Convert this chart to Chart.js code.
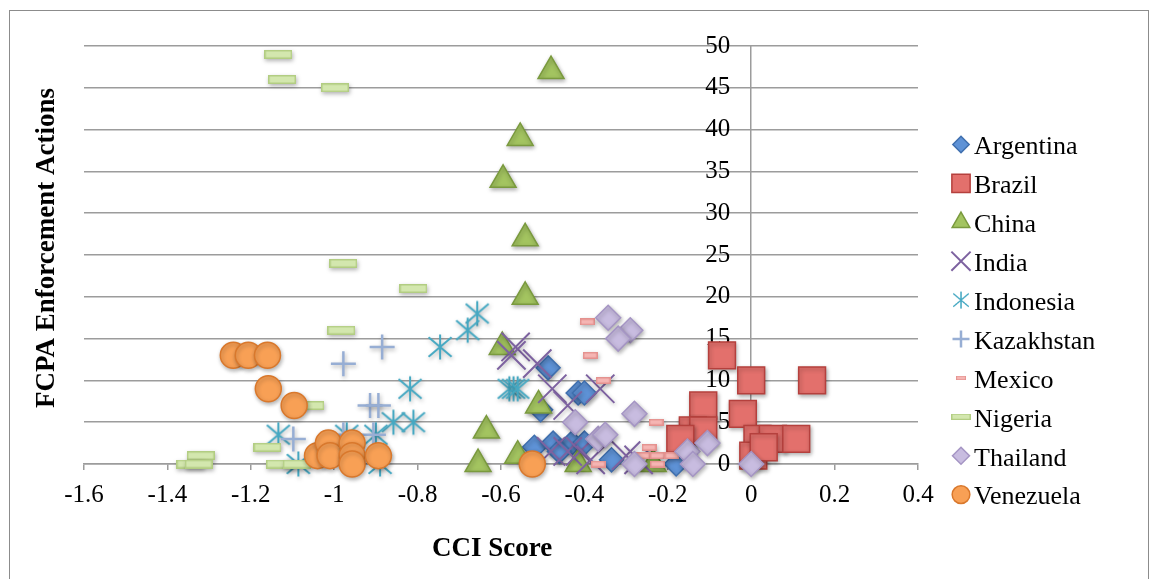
<!DOCTYPE html>
<html>
<head>
<meta charset="utf-8">
<title>FCPA Enforcement Actions vs CCI Score</title>
<script src="https://cdn.jsdelivr.net/npm/chart.js@4.4.1/dist/chart.umd.min.js"></script>
<style>
  body { margin: 0; background: #fff; }
  canvas { position: absolute; left: 0; top: 0; }
  #frame { position: absolute; left: 9px; top: 10px; width: 1140px; height: 580px; border: 1px solid #8c8c8c; box-sizing: border-box; pointer-events: none; }
</style>
</head>
<body>
<canvas id="scatter" width="1154" height="579"></canvas>
<div id="frame"></div>
<script>
// [CCI score, FCPA actions] per country
const argentina = [[-0.487, 11.5], [-0.415, 8.5], [-0.40, 8.5], [-0.505, 6.5], [-0.52, 2], [-0.475, 2.5], [-0.43, 2.5], [-0.40, 2.5], [-0.46, 1.5], [-0.335, 0.5], [-0.18, 0]];
const brazil = [[-0.07, 13], [0, 10], [0.146, 10], [-0.115, 7], [-0.02, 6], [-0.14, 4], [-0.115, 4], [-0.17, 3], [0.015, 3], [0.052, 3], [0.108, 3], [0.005, 1], [0.03, 2]];
const china = [[-0.48, 47], [-0.554, 39], [-0.595, 34], [-0.542, 27], [-0.542, 20], [-0.597, 14], [-0.51, 7], [-0.635, 4], [-0.655, 0], [-0.56, 1], [-0.415, 0], [-0.235, 0]];
const india = [[-0.565, 14], [-0.575, 13], [-0.513, 12], [-0.477, 9], [-0.362, 9], [-0.44, 7], [-0.48, 1.5], [-0.44, 1.5], [-0.41, 1.5], [-0.385, 0.5], [-0.3, 1], [-0.27, 0.5]];
const indonesia = [[-0.657, 18], [-0.68, 16], [-0.746, 14], [-0.818, 9], [-0.58, 9], [-0.57, 9], [-0.56, 9], [-0.858, 5], [-0.81, 5], [-1.134, 3.5], [-0.97, 3.5], [-0.90, 3.5], [-1.086, 0], [-0.89, 0]];
const kazakhstan = [[-0.885, 14], [-0.978, 12], [-0.914, 7], [-0.894, 7], [-1.098, 3], [-0.978, 3.5], [-0.906, 3.5]];
const mexico = [[-0.393, 17], [-0.386, 13], [-0.355, 10], [-0.228, 5], [-0.245, 2], [-0.26, 1], [-0.225, 1], [-0.225, 0], [-0.367, 0], [-0.19, 1]];
const nigeria = [[-1.134, 49], [-1.125, 46], [-0.998, 45], [-0.978, 24], [-0.81, 21], [-0.983, 16], [-1.057, 7], [-1.16, 2], [-1.32, 1], [-1.345, 0], [-1.325, 0], [-1.13, 0], [-1.09, 0]];
const thailand = [[-0.343, 17.5], [-0.29, 16], [-0.319, 15], [-0.28, 6], [-0.422, 5], [-0.367, 3], [-0.35, 3.5], [-0.28, 0], [-0.153, 1.5], [-0.105, 2.5], [-0.14, 0], [0, 0]];
const venezuela = [[-1.242, 13], [-1.206, 13], [-1.16, 13], [-1.158, 9], [-1.096, 7], [-1.04, 1], [-1.014, 2.5], [-1.01, 1], [-0.957, 2.5], [-0.957, 1], [-0.957, 0], [-0.894, 1], [-0.525, 0]];

const xTickValues = [-1.6, -1.4, -1.2, -1, -0.8, -0.6, -0.4, -0.2, 0, 0.2, 0.4];
const yTickValues = [0, 5, 10, 15, 20, 25, 30, 35, 40, 45, 50];

const serif = '"Liberation Serif", "Times New Roman", serif';
const gridGray = '#9c9c9c';

// small canvases for the marker shapes Chart.js has no style for
function dashImage(w, h, fill, stroke) {
    const c = document.createElement('canvas');
    c.width = w; c.height = h;
    const g = c.getContext('2d');
    g.fillStyle = fill;
    g.fillRect(0, 0, w, h);
    g.strokeStyle = stroke;
    g.lineWidth = 1.5;
    g.strokeRect(0.75, 0.75, w - 1.5, h - 1.5);
    return c;
}

function asteriskImage(size, color) {
    const c = document.createElement('canvas');
    c.width = size; c.height = size;
    const g = c.getContext('2d');
    const m = size / 2, r = size / 2 - 1.5;
    g.strokeStyle = color;
    g.lineWidth = 2;
    g.beginPath();
    g.moveTo(m, m - r); g.lineTo(m, m + r);
    g.moveTo(m - r * 0.92, m - r * 0.78); g.lineTo(m + r * 0.92, m + r * 0.78);
    g.moveTo(m + r * 0.92, m - r * 0.78); g.lineTo(m - r * 0.92, m + r * 0.78);
    g.stroke();
    return c;
}

function series(label, points, style, radius, fill, stroke, width) {
    return {
        label: label,
        data: points.map(p => ({ x: p[0], y: p[1] })),
        showLine: false,
        clip: false,
        pointStyle: style,
        pointRadius: radius,
        pointHoverRadius: radius,
        pointBackgroundColor: fill,
        pointBorderColor: stroke,
        pointBorderWidth: width,
        backgroundColor: fill,
        borderColor: stroke
    };
}

const datasets = [
    series('Argentina', argentina, 'rectRot', 12, '#5E92D6', '#3F6FAE', 1.5),
    series('Brazil', brazil, 'rect', 19, '#E3706C', '#B5403D', 1.5),
    series('China', china, 'triangle', 15, '#A3C460', '#7A9A3E', 1.5),
    series('India', india, 'crossRot', 20, '#7D62A0', '#7D62A0', 2),
    series('Indonesia', indonesia, asteriskImage(28, '#45A8C2'), 14, '#45A8C2', '#45A8C2', 2),
    series('Kazakhstan', kazakhstan, 'cross', 12.5, '#97AED4', '#97AED4', 2.5),
    series('Mexico', mexico, dashImage(15, 7, '#F5B5B3', '#E4918E'), 7, '#F5B5B3', '#E4918E', 1),
    series('Nigeria', nigeria, dashImage(28, 9, '#D3E7AE', '#B2CD82'), 14, '#D3E7AE', '#B2CD82', 1),
    series('Thailand', thailand, 'rectRot', 12.5, '#C8BCE0', '#A595C4', 1.5),
    series('Venezuela', venezuela, 'circle', 13, '#F8A055', '#D9782C', 1.5)
];
// later countries sit on top, as in the original
datasets.forEach((d, i) => { d.order = datasets.length - i; });

function drawMarker(ctx, ds, x, y, k) {
    const style = ds.pointStyle;
    if (style instanceof HTMLCanvasElement) {
        const w = style.width * k, h = style.height * k;
        ctx.drawImage(style, x - w / 2, y - h / 2, w, h);
        return;
    }
    ctx.fillStyle = ds.pointBackgroundColor;
    ctx.strokeStyle = ds.pointBorderColor;
    ctx.lineWidth = ds.pointBorderWidth;
    Chart.helpers.drawPoint(ctx, { pointStyle: style, radius: ds.pointRadius * k, borderWidth: ds.pointBorderWidth, rotation: 0 }, x, y);
}

const markerShadow = {
    id: 'markerShadow',
    beforeDatasetsDraw(chart) {
        const c = chart.ctx;
        c.save();
        c.shadowColor = 'rgba(0,0,0,0.3)';
        c.shadowBlur = 4;
        c.shadowOffsetX = 1;
        c.shadowOffsetY = 2;
    },
    afterDatasetsDraw(chart) {
        chart.ctx.restore();
    }
};

// legend at the right and the two axis titles
const sideText = {
    id: 'sideText',
    afterDraw(chart) {
        const ctx = chart.ctx;
        ctx.save();
        chart.data.datasets.forEach((ds, i) => {
            const y = 147.5 + i * 38.9;
            drawMarker(ctx, ds, 961, y - 3, 0.68);
            ctx.font = '26px ' + serif;
            ctx.fillStyle = '#000';
            ctx.textAlign = 'left';
            ctx.textBaseline = 'middle';
            ctx.fillText(ds.label, 974, y);
        });
        ctx.font = 'bold 27px ' + serif;
        ctx.fillStyle = '#000';
        ctx.textAlign = 'center';
        ctx.textBaseline = 'middle';
        ctx.fillText('CCI Score', 492, 549);
        ctx.translate(47, 248);
        ctx.rotate(-Math.PI / 2);
        ctx.fillText('FCPA Enforcement Actions', 0, 0);
        ctx.restore();
    }
};

const ctx = document.getElementById('scatter').getContext('2d');

const myChart = new Chart(ctx, {
    type: 'scatter',
    data: { datasets: datasets },
    options: {
        responsive: false,
        animation: false,
        devicePixelRatio: 1,
        layout: { padding: { left: 84, right: 236, top: 46, bottom: 59 } },
        plugins: {
            legend: { display: false },
            tooltip: { enabled: false }
        },
        scales: {
            x: {
                type: 'linear',
                min: -1.6,
                max: 0.4,
                afterBuildTicks: s => { s.ticks = xTickValues.map(v => ({ value: v })); },
                ticks: {
                    callback: v => String(Math.round(v * 10) / 10),
                    font: { family: serif, size: 25 },
                    color: '#000',
                    padding: 10,
                    maxRotation: 0
                },
                // only the line at zero is drawn across the plot: it is the vertical axis
                grid: {
                    drawOnChartArea: true,
                    drawTicks: true,
                    tickLength: 6,
                    color: c => (c.tick && Math.abs(c.tick.value) < 1e-9) ? gridGray : 'rgba(0,0,0,0)',
                    tickColor: gridGray,
                    lineWidth: 1.5
                },
                border: { display: true, color: gridGray, width: 1.5 }
            },
            y: {
                type: 'linear',
                min: 0,
                max: 50,
                // labels sit just left of the zero line
                position: { x: -0.05 },
                afterBuildTicks: s => { s.ticks = yTickValues.map(v => ({ value: v })); },
                ticks: {
                    font: { family: serif, size: 25 },
                    color: '#000'
                },
                grid: { color: gridGray, lineWidth: 1.5, drawTicks: false, tickLength: 0 },
                border: { display: false }
            }
        }
    },
    plugins: [markerShadow, sideText]
});
</script>
</body>
</html>
